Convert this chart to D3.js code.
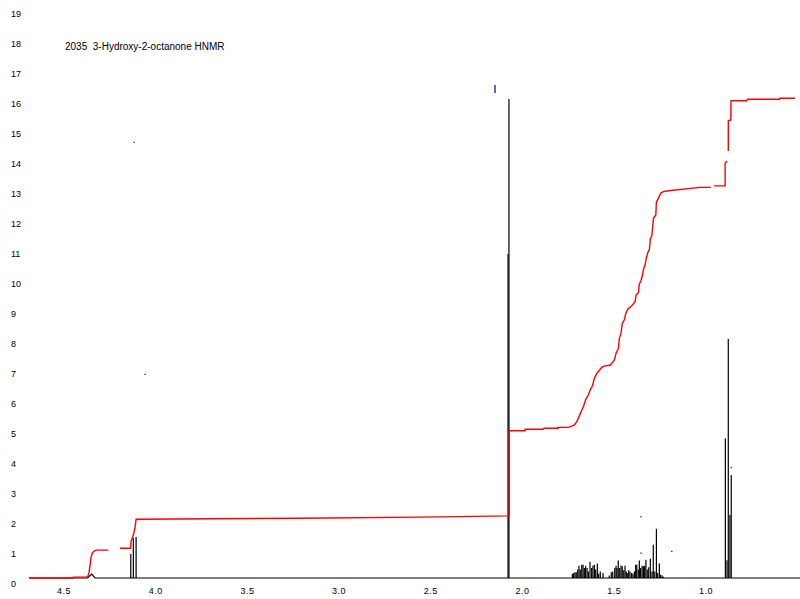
<!DOCTYPE html>
<html>
<head>
<meta charset="utf-8">
<script src="https://cdn.jsdelivr.net/npm/d3@7"></script>
<style>
  html, body { margin: 0; padding: 0; background: #fff; }
  svg { display: block; }
  text { font-family: "Liberation Sans", Arial, sans-serif; fill: #000; }
</style>
</head>
<body>
<svg id="chart" width="800" height="599"></svg>
<script>
// ---------- data ----------
const title = "2035  3-Hydroxy-2-octanone HNMR";

const yTickValues = [0,1,2,3,4,5,6,7,8,9,10,11,12,13,14,15,16,17,18,19];
const xTickValues = [4.5, 4.0, 3.5, 3.0, 2.5, 2.0, 1.5, 1.0];
const xTickLabels = ["4.5", "4.0", "3.5", "3.0", "2.5", "2.0", "1.5", "1.0"];

// baseline with small broad OH bump near 4.35 ppm
const baselinePpm = [4.691, 4.371, 4.349, 4.331, 0.487];
const baselineVal = [0, 0, 0.13, 0, 0];

// spectrum sticks (ppm, height)
const peakPpm = [
  4.136, 4.122, 4.107,
  2.079, 2.074,
  1.728, 1.721, 1.714, 1.707, 1.699, 1.692, 1.685, 1.677, 1.670, 1.663, 1.656, 1.648, 1.641,
  1.632, 1.623, 1.616, 1.608, 1.601, 1.592, 1.585, 1.576, 1.561,
  1.527, 1.516, 1.508, 1.497, 1.490, 1.485, 1.478, 1.470, 1.463, 1.456, 1.448, 1.441, 1.434,
  1.426, 1.421, 1.414, 1.405, 1.398, 1.390, 1.383, 1.377, 1.369, 1.363, 1.356, 1.348, 1.341,
  1.334, 1.327, 1.320, 1.312, 1.303, 1.294, 1.287, 1.279, 1.270, 1.263, 1.254, 1.247, 1.239, 1.232,
  0.894, 0.885, 0.878, 0.869, 0.862
];
const peakHeight = [
  0.80, 1.33, 1.37,
  10.8, 15.97,
  0.14, 0.17, 0.19, 0.19, 0.28, 0.41, 0.28, 0.44, 0.44, 0.33, 0.41, 0.33, 0.22,
  0.54, 0.33, 0.42, 0.44, 0.28, 0.48, 0.14, 0.22, 0.17,
  0.08, 0.19, 0.22, 0.33, 0.41, 0.33, 0.58, 0.33, 0.42, 0.39, 0.26, 0.41, 0.22,
  0.17, 0.26, 0.22, 0.17, 0.14, 0.22, 0.44, 0.44, 0.28, 0.58, 0.33, 0.41, 0.39,
  0.41, 0.61, 0.28, 0.36, 0.64, 0.22, 1.11, 0.22, 1.64, 0.17, 0.48, 0.11, 0.08, 0.04,
  4.65, 0.59, 7.97, 2.10, 3.43
];

// integral curve (null = gap)
const integralPpm = [
  4.691, 4.449, 4.449, 4.376, 4.369, 4.364, 4.358, 4.353, 4.346, 4.336, 4.322, 4.258,
  null,
  4.195, 4.136, 4.135, 4.122, 4.113, 4.107, 3.213, 2.559, 2.073, 2.073,
  1.986, 1.986, 1.888, 1.883, 1.806, 1.806, 1.752,
  1.741, 1.717, 1.704, 1.692, 1.681, 1.668, 1.655, 1.641, 1.630, 1.619, 1.608, 1.595,
  1.583, 1.568, 1.550, 1.523, 1.510, 1.499, 1.490, 1.477, 1.472, 1.463, 1.456, 1.445,
  1.437, 1.426, 1.414, 1.401, 1.386, 1.381, 1.368, 1.363, 1.354, 1.346, 1.339, 1.332,
  1.325, 1.317, 1.308, 1.303, 1.295, 1.286, 1.273, 1.270, 1.262, 1.251, 1.244, 1.232,
  1.205, 1.032, 0.973,
  null,
  0.955, 0.895, 0.895, 0.885,
  null,
  0.878, 0.878, 0.864, 0.864, 0.863, 0.777, 0.772, 0.600, 0.596, 0.514
];
const integralVal = [
  0, 0, 0.03, 0.03, 0.07, 0.17, 0.43, 0.67, 0.83, 0.90, 0.93, 0.93,
  null,
  0.99, 0.99, 1.21, 1.43, 1.67, 1.96, 1.99, 2.03, 2.07, 4.91,
  4.91, 4.96, 4.96, 4.99, 4.99, 5.02, 5.02,
  5.04, 5.10, 5.21, 5.38, 5.54, 5.71, 5.96, 6.10, 6.29, 6.40, 6.66, 6.82,
  6.91, 7.02, 7.07, 7.09, 7.18, 7.27, 7.49, 7.66, 7.99, 8.16, 8.49, 8.60,
  8.82, 8.96, 9.02, 9.10, 9.21, 9.43, 9.51, 9.80, 9.91, 10.10, 10.32, 10.43,
  10.66, 10.84, 10.96, 11.32, 11.40, 11.99, 12.10, 12.54, 12.62, 12.77, 12.84, 12.88,
  12.91, 13.02, 13.02,
  null,
  13.07, 13.07, 13.82, 13.90,
  null,
  14.23, 15.24, 15.27, 15.43, 15.91, 15.91, 15.96, 15.96, 15.99, 15.99
];

// stray marks in the scan (ppm, value from, value to)
const markPpm  = [2.150, 4.118, 4.058, 1.354, 1.354, 1.186, 0.862];
const markFrom = [16.17, 14.50, 6.77, 2.02, 0.81, 0.87, 3.66];
const markTo   = [16.43, 14.54, 6.81, 2.06, 0.85, 0.91, 3.70];

// ---------- chart ----------
const svg = d3.select("#chart");
const x = d3.scaleLinear().domain([4.691, 0.487]).range([29, 800]);
const y = d3.scaleLinear().domain([0, 19]).range([578, 8]);

// y tick labels
svg.append("g").selectAll("text").data(yTickValues).join("text")
  .attr("x", 11)
  .attr("y", d => y(d) + 6)
  .attr("dominant-baseline", "central")
  .attr("font-size", 9)
  .text(d => d);

// x tick labels
svg.append("g").selectAll("text").data(xTickValues).join("text")
  .attr("x", d => x(d))
  .attr("y", 594)
  .attr("text-anchor", "middle")
  .attr("font-size", 9)
  .attr("letter-spacing", 0.5)
  .text((d, i) => xTickLabels[i]);

// title
svg.append("text")
  .attr("x", 65).attr("y", 50)
  .attr("font-size", 10)
  .attr("xml:space", "preserve")
  .style("white-space", "pre")
  .text(title);

// baseline
const baseLine = d3.line().x(d => x(d[0])).y(d => y(d[1]));
svg.append("path")
  .attr("d", baseLine(baselinePpm.map((p, i) => [p, baselineVal[i]])))
  .attr("fill", "none").attr("stroke", "#000").attr("stroke-width", 1.2);

// sticks
svg.append("g").selectAll("line").data(peakPpm).join("line")
  .attr("x1", d => x(d)).attr("x2", d => x(d))
  .attr("y1", y(0)).attr("y2", (d, i) => y(peakHeight[i]))
  .attr("stroke", "#000").attr("stroke-width", 1.2);

// stray marks
svg.append("g").selectAll("line").data(markPpm).join("line")
  .attr("x1", d => x(d)).attr("x2", d => x(d))
  .attr("y1", (d, i) => y(markFrom[i])).attr("y2", (d, i) => y(markTo[i]))
  .attr("stroke", "#000080").attr("stroke-width", 1.2);

// integral
const integLine = d3.line()
  .defined(d => d[0] !== null && d[1] !== null)
  .x(d => x(d[0])).y(d => y(d[1]));
svg.append("path")
  .attr("d", integLine(integralPpm.map((p, i) => [p, integralVal[i]])))
  .attr("fill", "none").attr("stroke", "#ff0000").attr("stroke-width", 1.4);
</script>
</body>
</html>
